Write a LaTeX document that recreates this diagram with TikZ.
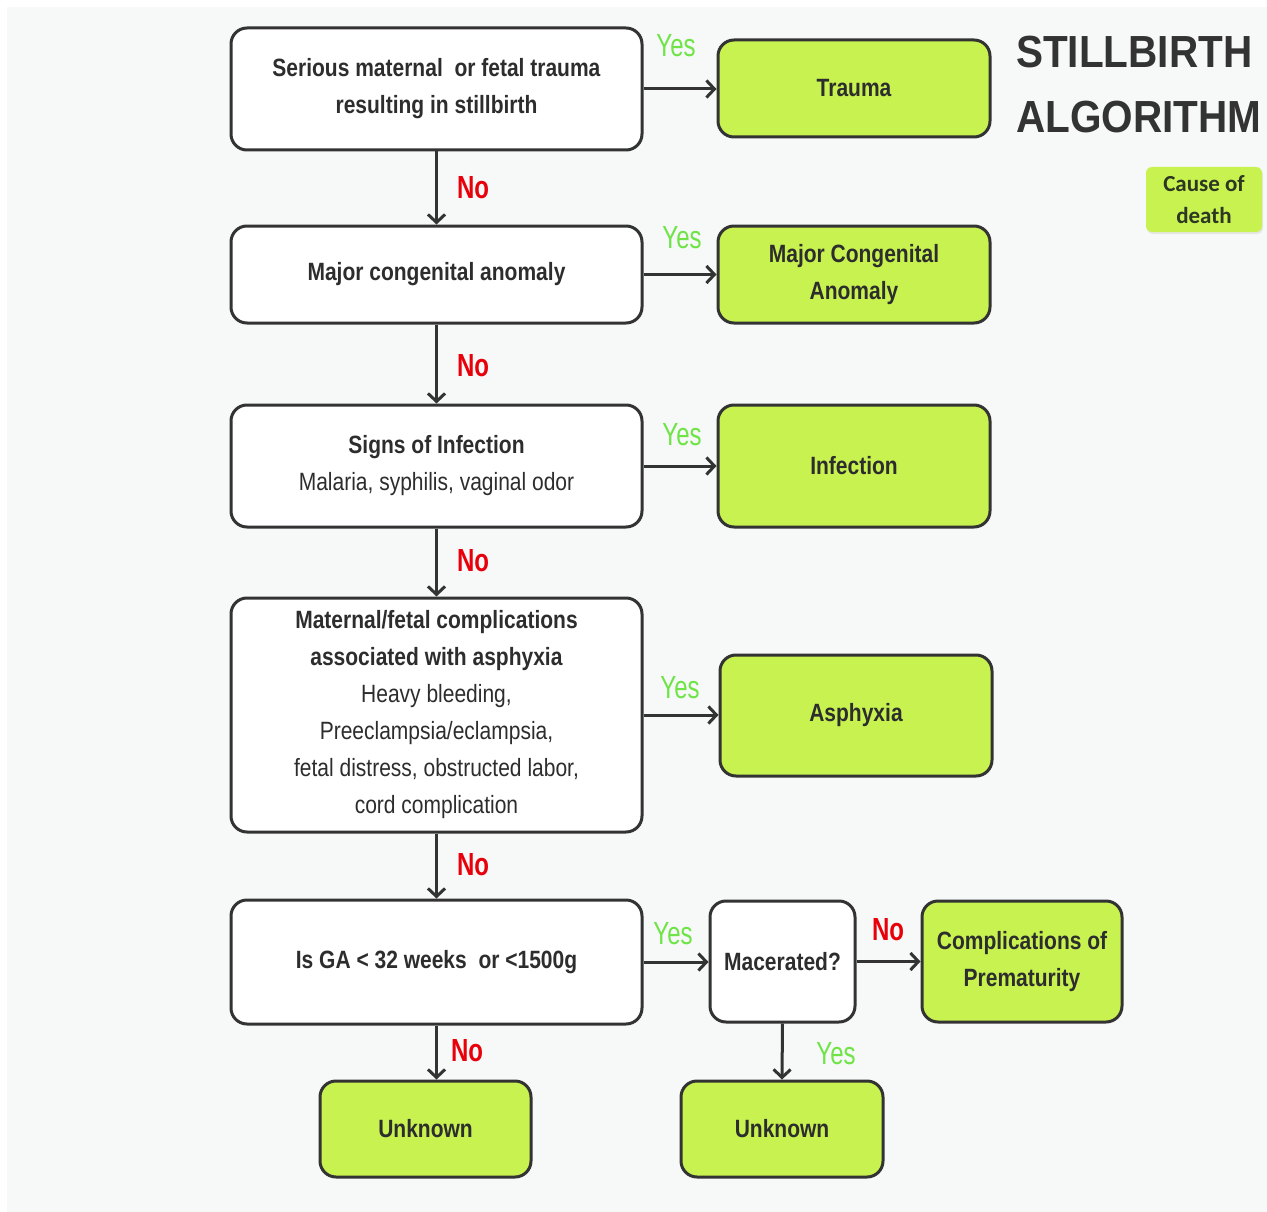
\documentclass[tikz,border=0pt]{standalone}
\usepackage{fontspec}
\setmainfont{Liberation Sans}[FakeStretch=0.84]
\newfontfamily\titlefont{Liberation Sans}[FakeStretch=0.9]
\newfontfamily\labelfont{Liberation Sans}[FakeStretch=0.75]
\newfontfamily\legendfont{Carlito}
\usetikzlibrary{arrows.meta,shadows}
\definecolor{bgc}{RGB}{247,248,248}
\definecolor{linec}{RGB}{51,51,51}
\definecolor{txt}{RGB}{45,45,45}
\definecolor{limec}{RGB}{200,242,80}
\definecolor{yesc}{RGB}{110,228,70}
\definecolor{noc}{RGB}{232,0,10}
\definecolor{legtxt}{RGB}{45,55,35}
\tikzset{
  qbox/.style={draw=linec, line width=3pt, rounded corners=16pt, fill=white, align=center,
    text=txt, inner sep=0pt, font=\fontsize{25}{37}\selectfont, minimum width=411pt},
  cbox/.style={draw=linec, line width=3pt, rounded corners=16pt, fill=limec, align=center,
    text=txt, inner sep=0pt, font=\fontsize{25}{37}\selectfont\bfseries},
  conn/.style={draw=linec, line width=3pt, -{Straight Barb[length=8pt,width=17pt,line width=3pt]}},
  yeslab/.style={text=yesc, font=\labelfont\fontsize{32}{36}\selectfont, inner sep=0pt},
  nolab/.style={text=noc, font=\labelfont\fontsize{32}{36}\selectfont\bfseries, inner sep=0pt},
  titletxt/.style={text=linec, font=\titlefont\fontsize{45}{50}\selectfont\bfseries, inner sep=0pt, anchor=base west},
}
\begin{document}
\begin{tikzpicture}[x=1pt,y=-1pt]
\useasboundingbox (0,0) rectangle (1267,1212);
\fill[bgc] (7,7) rectangle (1267,1212);

% question boxes
\node[qbox, minimum height=122pt] (b1) at (436.5,89) {\textbf{Serious maternal\ \ or fetal trauma}\\\textbf{resulting in stillbirth}};
\node[qbox, minimum height=97pt] (b2) at (436.5,274.5) {\textbf{Major congenital anomaly}};
\node[qbox, minimum height=122pt] (b3) at (436.5,466) {\textbf{Signs of Infection}\\Malaria, syphilis, vaginal odor};
\node[qbox, minimum height=234pt] (b4) at (436.5,715) {\textbf{Maternal/fetal complications}\\\textbf{associated with asphyxia}\\Heavy bleeding,\\Preeclampsia/eclampsia,\\fetal distress, obstructed labor,\\cord complication};
\node[qbox, minimum height=124pt] (b5) at (436.5,962) {\textbf{Is GA < 32 weeks\ \ or <1500g}};
\node[qbox, minimum width=145pt, minimum height=121pt] (m) at (782.5,961.5) {\textbf{Macerated?}};

% cause boxes
\node[cbox, minimum width=272pt, minimum height=97pt] (t1) at (854,88.5) {Trauma};
\node[cbox, minimum width=272pt, minimum height=97pt] (t2) at (854,274.5) {Major Congenital\\Anomaly};
\node[cbox, minimum width=272pt, minimum height=122pt] (t3) at (854,466) {Infection};
\node[cbox, minimum width=272pt, minimum height=121pt] (t4) at (856,715.5) {Asphyxia};
\node[cbox, minimum width=200pt, minimum height=121pt] (cp) at (1022,961.5) {Complications of\\Prematurity};
\node[cbox, minimum width=211pt, minimum height=96pt] (u1) at (425.5,1129) {Unknown};
\node[cbox, minimum width=202pt, minimum height=96pt] (u2) at (782,1129) {Unknown};

% connectors
\draw[conn] (b1.east) -- (b1.east -| t1.west);
\draw[conn] (b2) -- (t2);
\draw[conn] (b3) -- (t3);
\draw[conn] (b4.east) -- (b4.east -| t4.west);
\draw[conn] (b5.east) -- (b5.east -| m.west);
\draw[conn] (m) -- (cp);
\draw[conn] (b1.south) -- (b2.north);
\draw[conn] (b2.south) -- (b3.north);
\draw[conn] (b3.south) -- (b4.north);
\draw[conn] (b4.south) -- (b5.north);
\draw[conn] (b5.south) -- (b5.south |- u1.north);
\draw[conn] (m.south) -- (u2.north);

% labels
\node[yeslab] (y1) at (676,46) {Yes};
\node[yeslab] (y2) at (682,238) {Yes};
\node[yeslab] (y3) at (682,435) {Yes};
\node[yeslab] (y4) at (680,688) {Yes};
\node[yeslab] (y5) at (673,934) {Yes};
\node[yeslab] (y6) at (836,1054) {Yes};
\node[nolab] (n1) at (473,188) {No};
\node[nolab] (n2) at (473,366) {No};
\node[nolab] (n3) at (473,561) {No};
\node[nolab] (n4) at (473,865) {No};
\node[nolab] (n5) at (888,930) {No};
\node[nolab] (n6) at (467,1051) {No};

% title
\node[titletxt] (ti1) at (1016,68) {STILLBIRTH};
\node[titletxt] (ti2) at (1016,133) {ALGORITHM};

% legend
\node[fill=limec, rounded corners=6pt, minimum width=116pt, minimum height=65pt, inner sep=0pt,
  align=center, text=legtxt, font=\legendfont\fontsize{23}{32}\selectfont\bfseries,
  drop shadow={opacity=0.15, shadow xshift=1pt, shadow yshift=-2pt}] (leg) at (1204,199.5) {Cause of\\death};
\end{tikzpicture}
\end{document}
